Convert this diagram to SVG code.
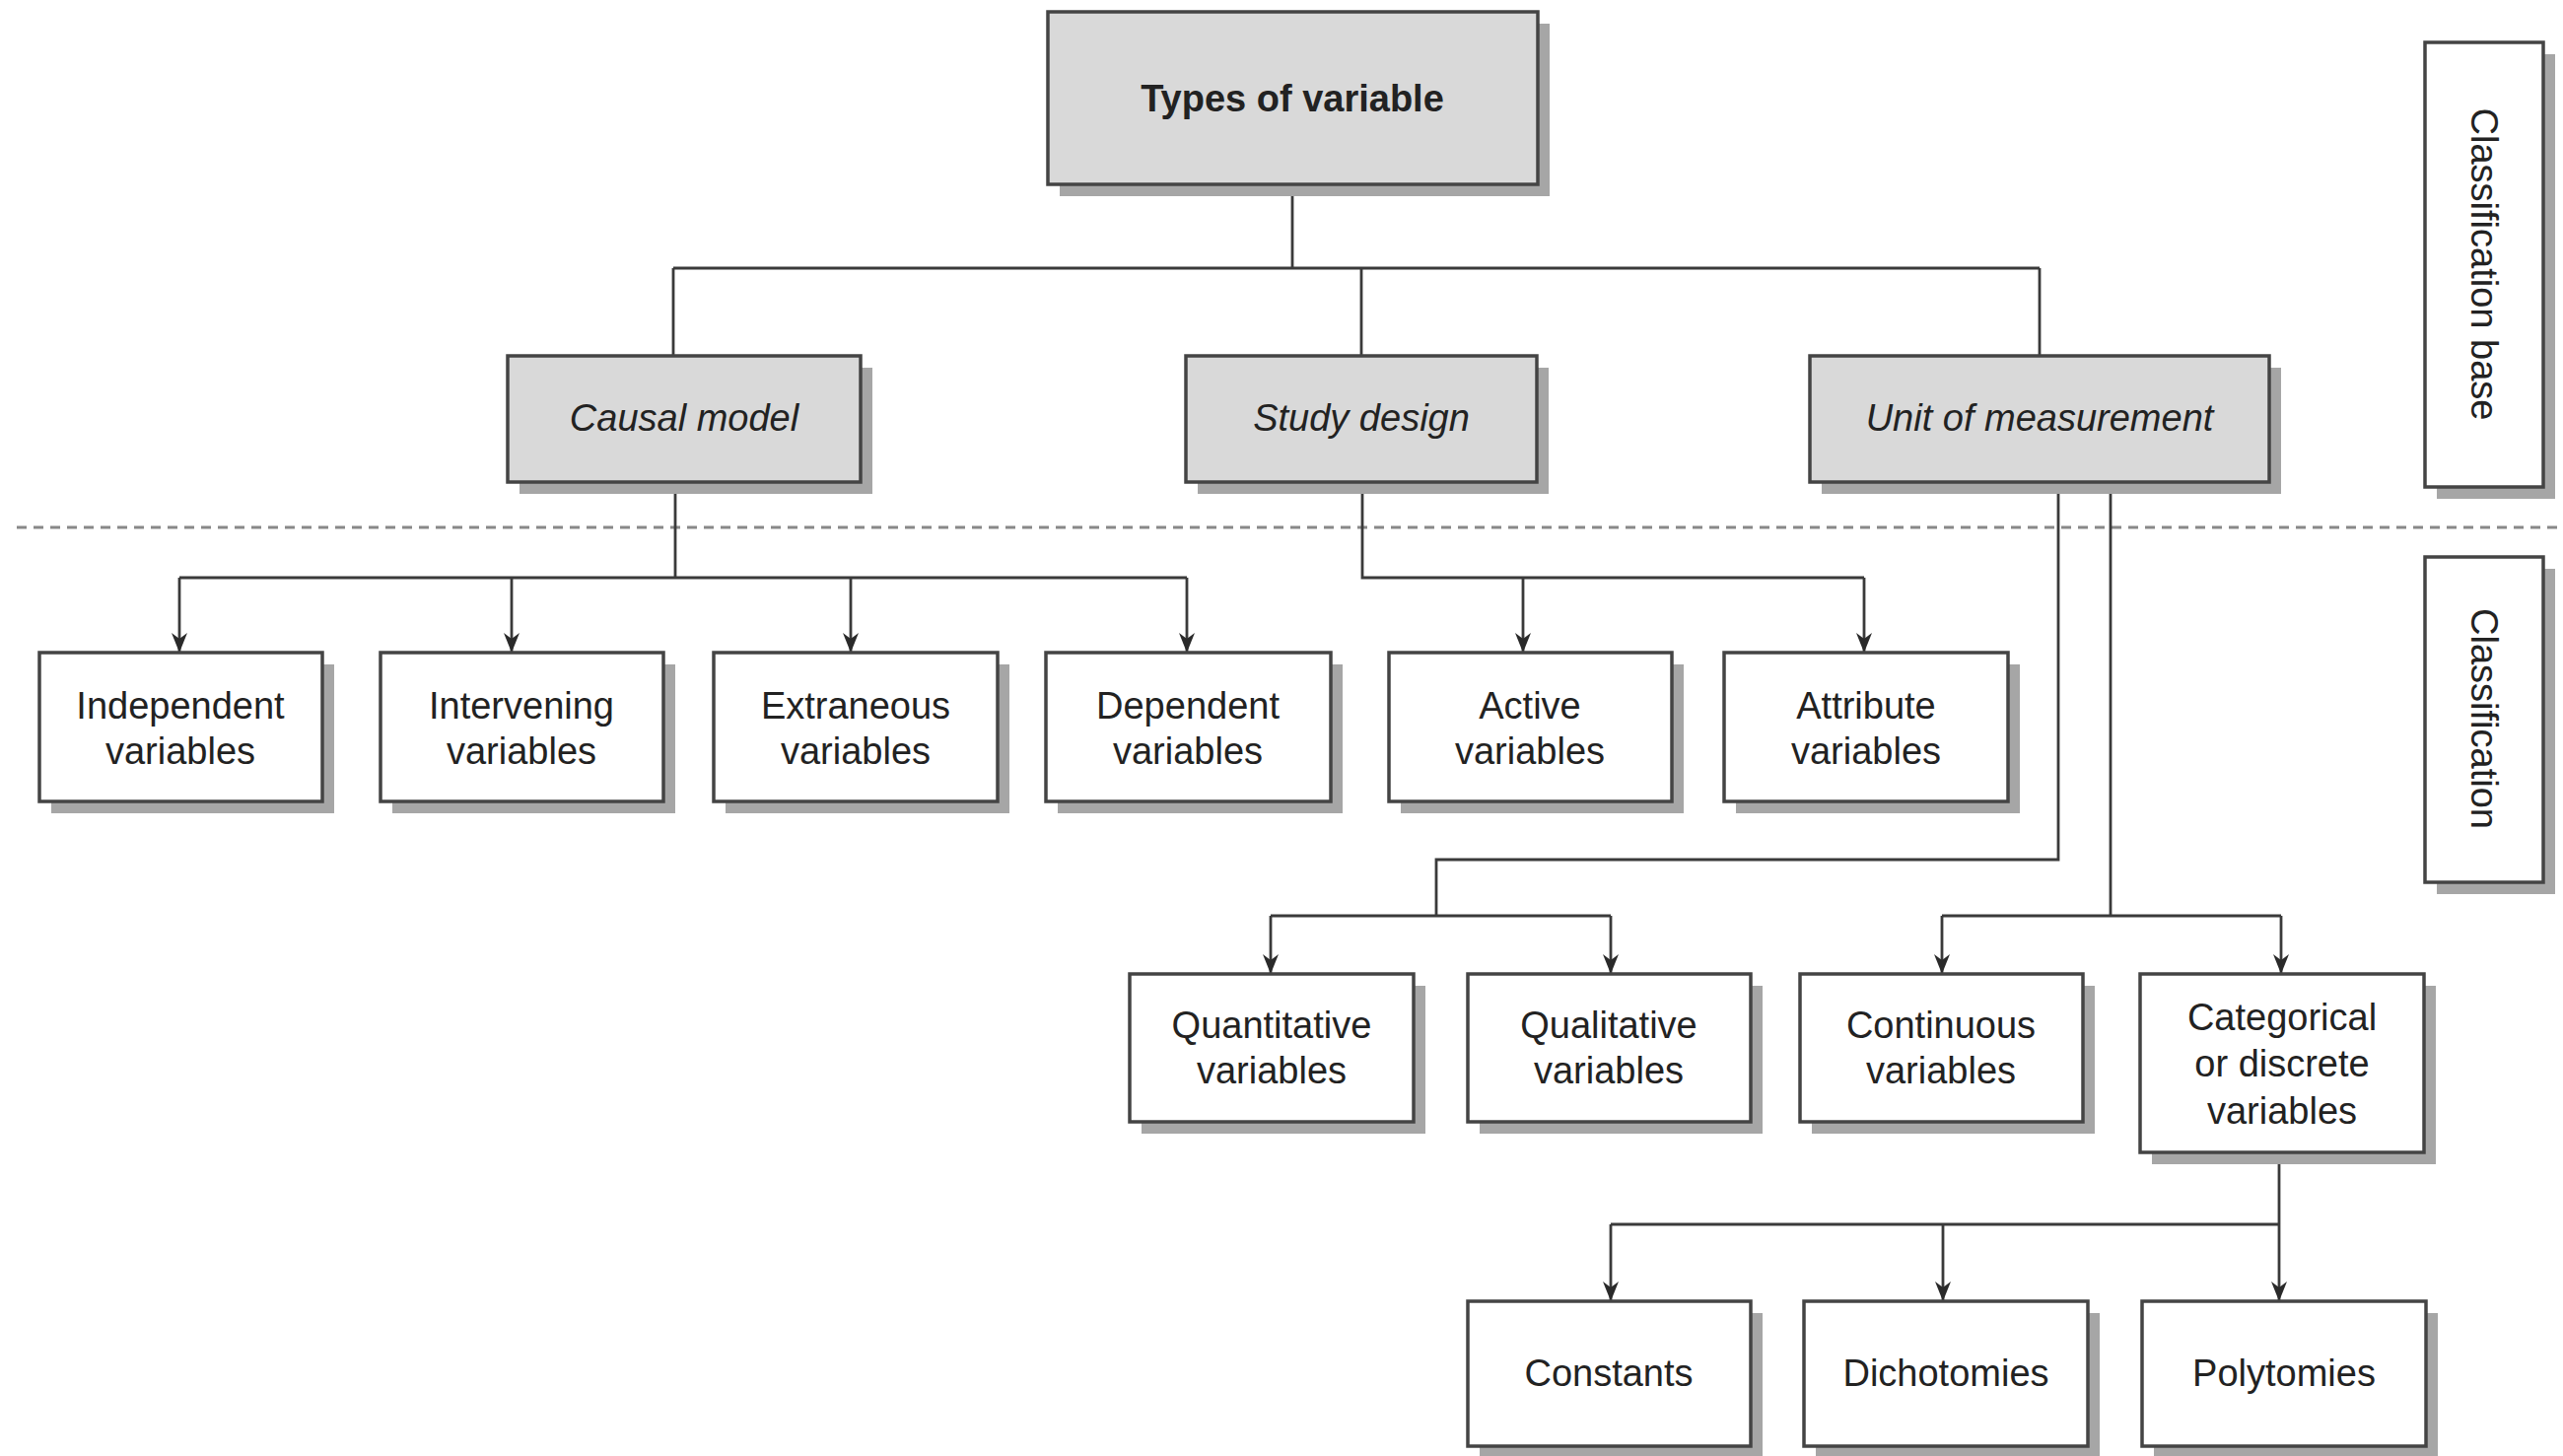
<svg xmlns="http://www.w3.org/2000/svg" width="2600" height="1477" viewBox="0 0 2600 1477">
<defs>
<style>
.sh{fill:#a6a6a6}
.bx{fill:#fff;stroke:#444;stroke-width:3.5}
.gb{fill:#d9d9d9;stroke:#444;stroke-width:3.5}
text{font-family:"Liberation Sans",Arial,sans-serif;font-size:38px;fill:#222;text-anchor:middle}
.it{font-style:italic}
.bd{font-weight:bold}
.ln{fill:none;stroke:#3a3a3a;stroke-width:2.8}
.ar{fill:none;stroke:#3a3a3a;stroke-width:2.8;marker-end:url(#ah)}
.dash{fill:none;stroke:#888;stroke-width:3;stroke-dasharray:10 7}
</style>
<marker id="ah" viewBox="0 0 20 16" refX="20" refY="8" markerWidth="20" markerHeight="16" markerUnits="userSpaceOnUse" orient="auto">
<path d="M0,0 L20,8 L0,16 L6,8 Z" fill="#2a2a2a"/>
</marker>
</defs>
<rect width="2600" height="1477" fill="#fff"/>
<line class="dash" x1="17" y1="535" x2="2600" y2="535"/>
<g id="connectors">
<path class="ln" d="M1311,187 V272 M683,272 H2069 M683,272 V361 M1381,272 V361 M2069,272 V361"/>
<path class="ln" d="M685,489 V586 M182,586 H1204"/>
<path class="ar" d="M182,586 V662"/>
<path class="ar" d="M519,586 V662"/>
<path class="ar" d="M863,586 V662"/>
<path class="ar" d="M1204,586 V662"/>
<path class="ln" d="M1382,489 V586 H1891"/>
<path class="ar" d="M1545,586 V662"/>
<path class="ar" d="M1891,586 V662"/>
<path class="ln" d="M2088,489 V872 H1457 V929 M1289,929 H1634"/>
<path class="ar" d="M1289,929 V988"/>
<path class="ar" d="M1634,929 V988"/>
<path class="ln" d="M2141,489 V929 M1970,929 H2314"/>
<path class="ar" d="M1970,929 V988"/>
<path class="ar" d="M2314,929 V988"/>
<path class="ln" d="M2312,1169 V1242 M1634,1242 H2312"/>
<path class="ar" d="M1634,1242 V1320"/>
<path class="ar" d="M1971,1242 V1320"/>
<path class="ar" d="M2312,1242 V1320"/>
</g>
<g id="types">
<rect class="sh" x="1075" y="24" width="497" height="175"/>
<rect class="gb" x="1063" y="12" width="497" height="175"/>
<text class="bd" x="1311" y="113">Types of variable</text>
</g>
<g id="causal">
<rect class="sh" x="527" y="373" width="358" height="128"/>
<rect class="gb" x="515" y="361" width="358" height="128"/>
<text class="it" x="694" y="437">Causal model</text>
</g>
<g id="study">
<rect class="sh" x="1215" y="373" width="356" height="128"/>
<rect class="gb" x="1203" y="361" width="356" height="128"/>
<text class="it" x="1381" y="437">Study design</text>
</g>
<g id="unit">
<rect class="sh" x="1848" y="373" width="466" height="128"/>
<rect class="gb" x="1836" y="361" width="466" height="128"/>
<text class="it" x="2069" y="437">Unit of measurement</text>
</g>
<g id="independent">
<rect class="sh" x="52" y="674" width="287" height="151"/>
<rect class="bx" x="40" y="662" width="287" height="151"/>
<text x="183" y="729">Independent</text><text x="183" y="775">variables</text>
</g>
<g id="intervening">
<rect class="sh" x="398" y="674" width="287" height="151"/>
<rect class="bx" x="386" y="662" width="287" height="151"/>
<text x="529" y="729">Intervening</text><text x="529" y="775">variables</text>
</g>
<g id="extraneous">
<rect class="sh" x="736" y="674" width="288" height="151"/>
<rect class="bx" x="724" y="662" width="288" height="151"/>
<text x="868" y="729">Extraneous</text><text x="868" y="775">variables</text>
</g>
<g id="dependent">
<rect class="sh" x="1073" y="674" width="289" height="151"/>
<rect class="bx" x="1061" y="662" width="289" height="151"/>
<text x="1205" y="729">Dependent</text><text x="1205" y="775">variables</text>
</g>
<g id="active">
<rect class="sh" x="1421" y="674" width="287" height="151"/>
<rect class="bx" x="1409" y="662" width="287" height="151"/>
<text x="1552" y="729">Active</text><text x="1552" y="775">variables</text>
</g>
<g id="attribute">
<rect class="sh" x="1761" y="674" width="288" height="151"/>
<rect class="bx" x="1749" y="662" width="288" height="151"/>
<text x="1893" y="729">Attribute</text><text x="1893" y="775">variables</text>
</g>
<g id="quantitative">
<rect class="sh" x="1158" y="1000" width="288" height="150"/>
<rect class="bx" x="1146" y="988" width="288" height="150"/>
<text x="1290" y="1053">Quantitative</text><text x="1290" y="1099">variables</text>
</g>
<g id="qualitative">
<rect class="sh" x="1501" y="1000" width="287" height="150"/>
<rect class="bx" x="1489" y="988" width="287" height="150"/>
<text x="1632" y="1053">Qualitative</text><text x="1632" y="1099">variables</text>
</g>
<g id="continuous">
<rect class="sh" x="1838" y="1000" width="287" height="150"/>
<rect class="bx" x="1826" y="988" width="287" height="150"/>
<text x="1969" y="1053">Continuous</text><text x="1969" y="1099">variables</text>
</g>
<g id="categorical">
<rect class="sh" x="2183" y="1000" width="288" height="181"/>
<rect class="bx" x="2171" y="988" width="288" height="181"/>
<text x="2315" y="1045">Categorical</text><text x="2315" y="1092">or discrete</text><text x="2315" y="1140">variables</text>
</g>
<g id="constants">
<rect class="sh" x="1501" y="1332" width="287" height="147"/>
<rect class="bx" x="1489" y="1320" width="287" height="147"/>
<text x="1632" y="1406">Constants</text>
</g>
<g id="dichotomies">
<rect class="sh" x="1842" y="1332" width="288" height="147"/>
<rect class="bx" x="1830" y="1320" width="288" height="147"/>
<text x="1974" y="1406">Dichotomies</text>
</g>
<g id="polytomies">
<rect class="sh" x="2185" y="1332" width="288" height="147"/>
<rect class="bx" x="2173" y="1320" width="288" height="147"/>
<text x="2317" y="1406">Polytomies</text>
</g>
<g id="classification-base">
<rect class="sh" x="2472" y="55" width="120" height="451"/>
<rect class="bx" x="2460" y="43" width="120" height="451"/>
<text transform="translate(2520,268) rotate(90)" y="13">Classification base</text>
</g>
<g id="classification">
<rect class="sh" x="2472" y="577" width="120" height="330"/>
<rect class="bx" x="2460" y="565" width="120" height="330"/>
<text transform="translate(2520,729) rotate(90)" y="13">Classification</text>
</g>
</svg>
